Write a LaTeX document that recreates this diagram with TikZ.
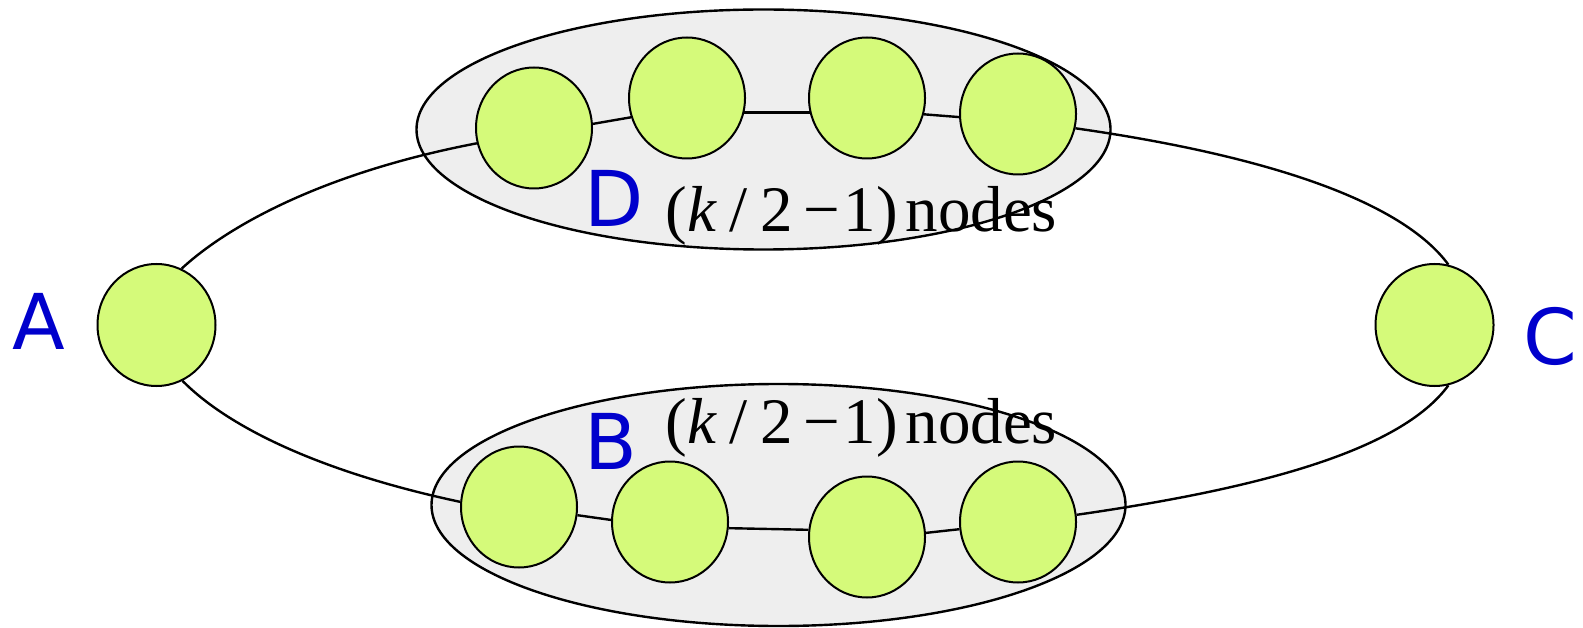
\documentclass[tikz,border=0pt]{standalone}
\usepackage{fontspec}
\setmainfont{Liberation Serif}
\newfontfamily\labelfont{DejaVu Sans}
\usetikzlibrary{shapes.geometric}
\definecolor{nodegreen}{RGB}{213,250,122}
\definecolor{groupgray}{RGB}{238,238,238}
\definecolor{labelblue}{RGB}{0,0,204}
\tikzset{
  vertex/.style={ellipse, draw=black, line width=1pt, fill=nodegreen, inner sep=0pt},
  smallvertex/.style={vertex, minimum width=58pt, minimum height=60.5pt},
  endvertex/.style={vertex, minimum width=59pt, minimum height=61pt},
  group/.style={ellipse, draw=black, line width=1.2pt, fill=groupgray, inner sep=0pt, minimum width=347pt},
  link/.style={draw=black, line width=1.2pt},
  letter/.style={anchor=base west, inner sep=0pt, text=labelblue, font=\labelfont\fontsize{38.5}{40}\selectfont},
  count/.style={anchor=base west, inner sep=0pt, text=black, font=\fontsize{32.5}{34}\selectfont}
}
\newcommand{\countlabel}{(\textit{k}\kern.2em{}/\kern.2em{}2\kern.15em{}−\kern.06em{}1)\kern.12em{}nodes}
\begin{document}
\begin{tikzpicture}[x=0.5pt,y=0.5pt]
\useasboundingbox (0,0) rectangle (1583,627);
% group ellipses
\node[group, minimum height=120pt] (Gtop) at (763.5,{627-129.5}) {};
\node[group, minimum height=121pt] (Gbot) at (778.5,{627-505}) {};
% vertices
\node[endvertex] (A) at (156.5,{627-325}) {};
\node[endvertex] (C) at (1434.5,{627-325}) {};
\node[smallvertex] (T1) at (534,{627-128}) {};
\node[smallvertex] (T2) at (687,{627-98}) {};
\node[smallvertex] (T3) at (867,{627-98}) {};
\node[smallvertex] (T4) at (1018,{627-114}) {};
\node[smallvertex] (B1) at (519,{627-507}) {};
\node[smallvertex] (B2) at (670,{627-522}) {};
\node[smallvertex] (B3) at (867,{627-537}) {};
\node[smallvertex] (B4) at (1018,{627-522}) {};
% connectors
\path[link] (A.66) .. controls (230,{627-224}) and (327,{627-172}) .. (T1.195);
\path[link] (T1.4) -- (T2.199);
\path[link] (T2.346) -- (T3.194);
\path[link] (T3.344) -- (T4.183);
\path[link] (T4.346) .. controls (1263,{627-155}) and (1401,{627-200}) .. (C.77);
\path[link] (A.295) .. controls (228,{627-427}) and (320,{627-472}) .. (B1.175);
\path[link] (B1.352) -- (B2.178);
\path[link] (B2.354) -- (B3.173);
\path[link] (B3.4) -- (B4.187);
\path[link] (B4.7) .. controls (1263,{627-488}) and (1401,{627-450}) .. (C.283);
% labels
\node[letter] (lA) at (12,{627-349}) {A};
\node[letter] (lC) at (1523,{627-364}) {C};
\node[letter] (lD) at (584.5,{627-227}) {D};
\node[letter] (lB) at (584.5,{627-469}) {B};
\node[count] (nD) at (665,{627-232}) {\countlabel};
\node[count] (nB) at (665,{627-443}) {\countlabel};
\end{tikzpicture}
\end{document}
